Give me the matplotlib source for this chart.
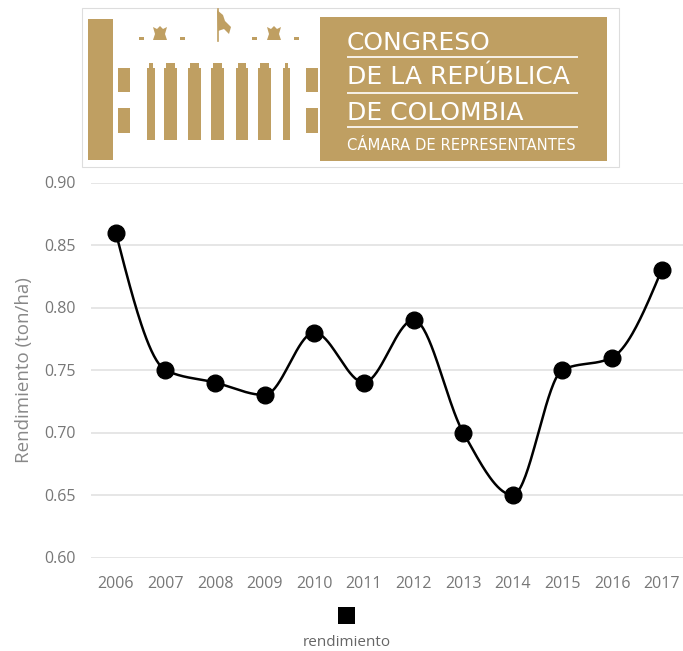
"""Rendimiento (ton/ha) 2006-2017 with the Cámara de Representantes banner on top."""

import matplotlib

matplotlib.use("Agg")
import matplotlib.pyplot as plt
import numpy as np
from matplotlib.patches import Polygon, Rectangle

W, H = 683, 651
GOLD = "#BF9F62"
GRID = "#E1E1E1"
TICK = "#777777"

YEARS = ["2006", "2007", "2008", "2009", "2010", "2011",
         "2012", "2013", "2014", "2015", "2016", "2017"]
RENDIMIENTO = [0.86, 0.75, 0.74, 0.73, 0.78, 0.74,
               0.79, 0.70, 0.65, 0.75, 0.76, 0.83]
Y_TICKS = [0.60, 0.65, 0.70, 0.75, 0.80, 0.85, 0.90]
SERIES_NAME = "rendimiento"
Y_LABEL = "Rendimiento (ton/ha)"
LOGO_LINES = ["CONGRESO", "DE LA REPÚBLICA", "DE COLOMBIA"]
LOGO_SUB = "CÁMARA DE REPRESENTANTES"


def monotone_x(x, y, steps=40):
    """Cubic curve with monotone-x tangents (same rule as d3.curveMonotoneX)."""
    x = np.asarray(x, float)
    y = np.asarray(y, float)
    n = len(x)
    h = np.diff(x)
    s = np.diff(y) / h
    t = np.zeros(n)
    for i in range(1, n - 1):
        p = (s[i - 1] * h[i] + s[i] * h[i - 1]) / (h[i - 1] + h[i])
        t[i] = (np.sign(s[i - 1]) + np.sign(s[i])) * min(abs(s[i - 1]), abs(s[i]), 0.5 * abs(p))
    t[0] = (3 * s[0] - t[1]) / 2
    t[-1] = (3 * s[-1] - t[-2]) / 2
    xs, ys = [], []
    for i in range(n - 1):
        u = np.linspace(0, 1, steps)
        h00 = 2 * u**3 - 3 * u**2 + 1
        h10 = u**3 - 2 * u**2 + u
        h01 = -2 * u**3 + 3 * u**2
        h11 = u**3 - u**2
        xs.append(x[i] + u * h[i])
        ys.append(h00 * y[i] + h10 * h[i] * t[i] + h01 * y[i + 1] + h11 * h[i] * t[i + 1])
    return np.concatenate(xs), np.concatenate(ys)


def px_axes(fig, left, top, right, bottom):
    return fig.add_axes([left / W, 1 - bottom / H, (right - left) / W, (bottom - top) / H])


def rect(ax, x0, y0, x1, y1, color=GOLD):
    ax.add_patch(Rectangle((x0, y0), x1 - x0, y1 - y0, facecolor=color, edgecolor="none"))


def draw_logo(lax):
    # thin frame round the banner image
    lax.add_patch(Rectangle((82, 8), 537, 159, facecolor="none", edgecolor="#DDDDDD", lw=0.8))
    rect(lax, 88, 19, 113, 160)
    for x0, x1 in [(118, 130), (306, 318)]:
        rect(lax, x0, 68, x1, 92)
        rect(lax, x0, 108, x1, 133)
    for x0, x1 in [(147, 155), (164, 177), (188, 201), (211, 224),
                   (236, 248), (258, 271), (283, 290)]:
        rect(lax, x0, 68, x1, 140)
        rect(lax, x0 + 2, 63, x1 - 2, 68)
    # little dashes and eagles along the roof line
    for x0 in [139, 180, 252, 294]:
        rect(lax, x0, 37, x0 + 5, 40)
    for cx in [160, 274]:
        lax.add_patch(Polygon([(cx - 7, 27), (cx - 3, 29), (cx, 26), (cx + 3, 29), (cx + 7, 27),
                               (cx + 5, 34), (cx + 7, 40), (cx - 7, 40), (cx - 5, 34)],
                              facecolor=GOLD, edgecolor="none"))
    lax.plot([217.5, 217.5], [9, 41], color=GOLD, lw=1.2)
    lax.add_patch(Polygon([(217, 10), (223, 15), (225, 21), (231, 27), (229, 34),
                           (224, 29), (218, 31)], facecolor=GOLD, edgecolor="none"))
    rect(lax, 320, 17, 607, 161)
    for baseline, txt in zip([50, 84, 120.5], LOGO_LINES):
        lax.text(347, baseline, txt, color="white", fontsize=18, family="DejaVu Sans",
                 va="baseline", ha="left")
    for yl in [57, 93, 127]:
        lax.plot([347, 578], [yl, yl], color="white", lw=1.2, solid_capstyle="butt")
    lax.text(347, 150, LOGO_SUB, color="white", fontsize=10.6, family="DejaVu Sans",
             va="baseline", ha="left")


def main():
    plt.rcParams["font.family"] = ["Open Sans", "DejaVu Sans"]
    fig = plt.figure(figsize=(W / 100, H / 100), dpi=100)

    ax = px_axes(fig, 91, 182.5, 683, 557.5)
    xi = np.arange(len(YEARS))
    cx, cy = monotone_x(xi, RENDIMIENTO)
    ax.plot(cx, cy, color="black", lw=1.8, zorder=3)
    ax.plot(xi, RENDIMIENTO, "o", color="black", ms=12, zorder=4)

    ax.set_xlim(-0.5, 11.43)
    ax.set_ylim(0.60, 0.90)
    ax.set_yticks(Y_TICKS)
    ax.set_yticklabels([f"{v:.2f}" for v in Y_TICKS])
    ax.set_xticks(xi)
    ax.set_xticklabels(YEARS)
    ax.grid(axis="y", color=GRID, lw=1.2)
    ax.set_axisbelow(True)
    for side in ax.spines.values():
        side.set_visible(False)
    ax.tick_params(axis="y", length=0, pad=11, labelsize=11.5, labelcolor=TICK)
    ax.tick_params(axis="x", length=0, pad=13, labelsize=11.5, labelcolor=TICK)
    ax.set_ylabel(Y_LABEL, fontsize=13.5, color="#888888", labelpad=8)

    lax = fig.add_axes([0, 0, 1, 1], zorder=5)
    lax.set_xlim(0, W)
    lax.set_ylim(H, 0)
    lax.axis("off")
    lax.patch.set_alpha(0)
    draw_logo(lax)

    # legend: square swatch above the series name
    rect(lax, 338, 607, 355, 624, color="black")
    lax.text(346.5, 642, SERIES_NAME, color="#666666", fontsize=11, ha="center", va="center")

    fig.savefig("out.png", dpi=100)


if __name__ == "__main__":
    main()
